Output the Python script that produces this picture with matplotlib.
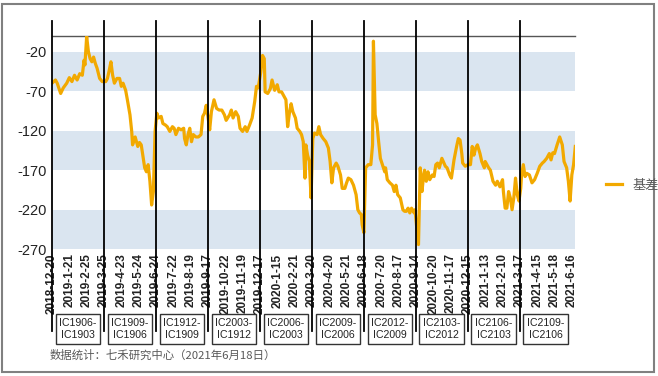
import matplotlib
matplotlib.use("Agg")
import matplotlib.pyplot as plt
import matplotlib.transforms as mtransforms
from matplotlib.patches import Rectangle
import numpy as np

plt.rcParams['font.family'] = ['Liberation Sans', 'Noto Sans CJK SC', 'DejaVu Sans']

# ---- data (trading-day index from 2018-12-20, basis value) ----
day = [0, 4, 6, 10, 13, 17, 20, 23, 26, 29, 32, 35, 37, 38, 40, 42, 44, 46, 48, 50,
       52, 55, 58, 62, 64, 66, 68, 70, 72, 75, 78, 80, 82, 85, 87, 90, 92, 93, 96, 99,
       101, 103, 107, 109, 111, 113, 115, 117, 119, 121, 123, 126, 128, 131, 133, 136, 139, 141, 143, 146,
       149, 152, 153, 155, 157, 159, 161, 163, 166, 169, 172, 174, 176, 178, 180, 182, 184, 187, 190, 193,
       196, 199, 201, 205, 207, 209, 212, 215, 217, 220, 223, 225, 228, 231, 234, 236, 238, 241, 243, 245,
       246, 249, 252, 254, 257, 260, 262, 265, 267, 270, 272, 274, 276, 278, 281, 283, 286, 288, 290, 292,
       293, 295, 297, 299, 301, 303, 306, 308, 310, 313, 316, 319, 321, 323, 325, 328, 330, 333, 335, 338,
       340, 342, 345, 348, 351, 353, 355, 357, 358, 360, 362, 365, 368, 370, 371, 373, 375, 377, 379, 382,
       384, 385, 387, 390, 393, 395, 397, 399, 402, 405, 407, 409, 411, 413, 415, 418, 419, 421, 423, 425,
       427, 429, 430, 432, 434, 436, 439, 441, 443, 445, 447, 450, 454, 456, 459, 461, 464, 467, 469, 471,
       473, 474, 477, 480, 483, 485, 487, 489, 491, 494, 496, 499, 500, 504, 506, 509, 512, 514, 517, 520,
       521, 523, 525, 527, 529, 531, 533, 535, 537, 539, 541, 542, 544, 546, 548, 551, 554, 557, 560, 563,
       566, 568, 571, 574, 576, 578, 580, 583, 586, 589, 591, 594, 596, 598, 600, 602, 604]
basis = [-60, -56, -60, -73, -66, -60, -53, -58, -50, -56, -48, -50, -31, -37, -1, -20, -29, -33, -27, -35,
         -41, -54, -58, -58, -54, -44, -33, -50, -60, -54, -54, -64, -60, -69, -81, -100, -121, -138, -128, -140,
         -135, -138, -167, -172, -163, -184, -214, -197, -121, -98, -104, -102, -111, -113, -115, -121, -115, -117, -125, -117,
         -119, -117, -130, -138, -125, -117, -134, -125, -128, -128, -125, -102, -98, -88, -102, -119, -96, -81, -92, -94,
         -94, -100, -107, -100, -94, -104, -96, -102, -117, -121, -115, -121, -113, -104, -83, -64, -66, -46, -25, -29,
         -71, -73, -67, -56, -69, -62, -71, -71, -75, -81, -115, -98, -86, -96, -104, -117, -121, -125, -134, -180,
         -138, -151, -159, -205, -130, -123, -125, -115, -125, -130, -134, -142, -159, -186, -167, -161, -165, -176, -193, -193,
         -186, -180, -182, -189, -201, -220, -224, -226, -239, -249, -167, -163, -163, -138, -7, -100, -111, -134, -155, -165,
         -172, -167, -182, -186, -189, -197, -189, -201, -205, -220, -222, -222, -218, -224, -218, -224, -220, -243, -264, -167,
         -197, -176, -170, -184, -172, -182, -176, -178, -163, -161, -167, -155, -165, -167, -176, -180, -157, -140, -130, -132,
         -149, -161, -165, -163, -163, -140, -151, -142, -138, -149, -159, -167, -159, -167, -170, -184, -189, -184, -191, -182,
         -197, -218, -218, -197, -205, -220, -205, -180, -201, -209, -193, -176, -163, -178, -174, -176, -186, -182, -174, -165,
         -161, -159, -155, -149, -157, -148, -149, -138, -128, -138, -159, -167, -184, -209, -176, -163, -140]

tick_labels = ['2018-12-20', '2019-1-21', '2019-2-25', '2019-3-25', '2019-4-23', '2019-5-24',
               '2019-6-24', '2019-7-22', '2019-8-19', '2019-9-17', '2019-10-22', '2019-11-19',
               '2019-12-17', '2020-1-15', '2020-2-21', '2020-3-20', '2020-4-20', '2020-5-21',
               '2020-6-18', '2020-7-20', '2020-8-17', '2020-9-14', '2020-10-20', '2020-11-17',
               '2020-12-15', '2021-1-13', '2021-2-10', '2021-3-17', '2021-4-15', '2021-5-18',
               '2021-6-16']
label_step = 20
roll_days = [0, 60, 120, 180, 240, 300, 360, 420, 480, 540]
spread_labels = ['IC1906-\nIC1903', 'IC1909-\nIC1906', 'IC1912-\nIC1909', 'IC2003-\nIC1912',
                 'IC2006-\nIC2003', 'IC2009-\nIC2006', 'IC2012-\nIC2009', 'IC2103-\nIC2012',
                 'IC2106-\nIC2103', 'IC2109-\nIC2106']
yticks = [-20, -70, -120, -170, -220, -270]
series_name = '基差'
source = '数据统计：七禾研究中心（2021年6月18日）'

LINE = '#F2A900'
BAND = '#DAE5F0'

W, H = 658, 376
fig = plt.figure(figsize=(W / 100, H / 100), dpi=100)
ax = fig.add_axes([52 / W, 1 - 249.3 / H, (575.3 - 52) / W, (249.3 - 35.7) / H])

# alternating bands
for lo in [-270, -170, -70]:
    ax.axhspan(lo, lo + 50, color=BAND, lw=0, zorder=0)

ax.plot(day, basis, color=LINE, lw=2.3, zorder=3, solid_joinstyle='round', label=series_name)

ax.set_ylim(-270, 0)
ax.set_xlim(0, 604)
ax.set_yticks(yticks)
ax.set_yticklabels([str(v) for v in yticks], fontsize=10.5, color='#222222')
ax.set_xticks(np.arange(len(tick_labels)) * label_step)
ax.set_xticklabels(tick_labels, rotation=90, fontsize=8.5, fontweight='bold', color='#222222')
ax.tick_params(length=0, axis='y', pad=4)
ax.tick_params(length=0, axis='x', pad=3)
for s in ['right', 'bottom', 'left']:
    ax.spines[s].set_visible(False)
ax.spines['top'].set_color('#555555')
ax.spines['top'].set_linewidth(1.0)

# vertical roll lines extending outside the axes
trans = mtransforms.blended_transform_factory(ax.transData, ax.transAxes)
y_top = (249.3 - 21) / (249.3 - 35.7)
y_bot = (249.3 - 331) / (249.3 - 35.7)
for d in roll_days:
    ax.plot([d, d], [y_bot, y_top], transform=trans, color='black', lw=1.3,
            clip_on=False, zorder=4)

# contract boxes
y_box = (249.3 - 329) / (249.3 - 35.7)
for i, lab in enumerate(spread_labels):
    xc = roll_days[i] + 30
    ax.text(xc, y_box, lab, transform=trans, ha='center', va='center', fontsize=7.6,
            color='#222222', linespacing=1.25,
            bbox=dict(boxstyle='square,pad=0.35', fc='white', ec='#333333', lw=1.0),
            zorder=5, clip_on=False)

# legend
fig.legend(loc='center left', bbox_to_anchor=(594 / W, 1 - 185 / H), frameon=False,
           handlelength=1.2, handletextpad=0.8,
           prop={'family': ['Noto Sans CJK SC'], 'size': 9.5}, labelcolor='#595959')

# source note
fig.text(50 / W, 1 - 355 / H, source, fontsize=8.2, color='#595959',
         family=['Noto Sans CJK SC', 'DejaVu Sans'], ha='left', va='center')

# outer border
fig.patches.append(Rectangle((2 / W, 1 - 372 / H), 652 / W, 368 / H, transform=fig.transFigure,
                             fill=False, ec='#808080', lw=1.5))

fig.savefig('out.png', dpi=100)
